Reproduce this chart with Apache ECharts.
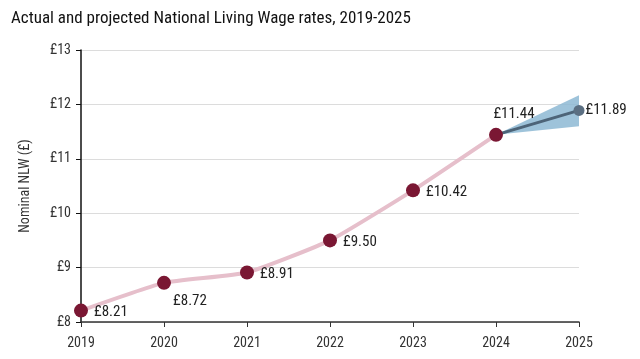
<!DOCTYPE html>
<html><head><meta charset="utf-8">
<script src="https://cdn.jsdelivr.net/npm/echarts@6/dist/echarts.min.js"></script>
<style>html,body{margin:0;padding:0;background:#fff}#c{width:640px;height:359px}</style>
</head><body><div id="c"></div>
<script>
const years = ['2019','2020','2021','2022','2023','2024','2025'];
const actual = [8.21, 8.72, 8.91, 9.50, 10.42, 11.44, null];
const projected = [null, null, null, null, null, 11.44, 11.89];
const fanLower = [null, null, null, null, null, 11.44, 11.60];
const fanUpper = [null, null, null, null, null, 11.44, 12.17];
const yTicks = [8, 9, 10, 11, 12, 13];

const FONT = '"Liberation Sans Narrow", "Roboto Condensed", "DejaVu Sans Condensed", "Arial Narrow", Roboto, sans-serif';
const fanWidth = fanUpper.map((u, i) => (u == null ? null : +(u - fanLower[i]).toFixed(2)));
const labelPos = ['right', 'bottom', 'right', 'right', 'right', 'top'];
const labelOffset = [[0, 2], [26, -2], [0, 2], [0, 2], [0, 2], [18, 0]];

const chart = echarts.init(document.getElementById('c'));
chart.setOption({
  animation: false,
  textStyle: { fontFamily: FONT },
  title: {
    text: 'Actual and projected National Living Wage rates, 2019-2025',
    left: 6, top: 5,
    textStyle: { fontFamily: FONT, fontSize: 17, fontWeight: 'normal', color: '#111' }
  },
  grid: { left: 81, right: 61, top: 50, bottom: 37 },
  xAxis: {
    type: 'category', data: years, boundaryGap: false,
    axisLine: { lineStyle: { color: '#333', width: 1.5 } },
    axisTick: { show: true, alignWithLabel: true, length: 5, lineStyle: { color: '#333' } },
    axisLabel: { color: '#333', fontSize: 14, margin: 14, fontFamily: FONT },
    splitLine: { show: false }
  },
  yAxis: {
    type: 'value', min: 8, max: 13, interval: 1,
    name: 'Nominal NLW (£)', nameLocation: 'middle', nameGap: 49,
    nameTextStyle: { color: '#333', fontSize: 14, fontFamily: FONT },
    axisLine: { show: true, lineStyle: { color: '#111', width: 1.5 } },
    axisTick: { show: true, length: 5, lineStyle: { color: '#111' } },
    axisLabel: { color: '#333', fontSize: 14, margin: 10, fontFamily: FONT, formatter: v => '£' + v },
    splitLine: { lineStyle: { color: '#dcdcdc' } }
  },
  series: [
    { type: 'line', data: fanLower, stack: 'fan', symbol: 'none', lineStyle: { opacity: 0 }, silent: true, z: 1 },
    { type: 'line', data: fanWidth, stack: 'fan', symbol: 'none', lineStyle: { opacity: 0 },
      areaStyle: { color: '#8db9d3', opacity: 0.85 }, silent: true, z: 1 },
    { type: 'line', data: projected, symbol: 'circle', symbolSize: 11,
      lineStyle: { color: '#4d6478', width: 3 },
      itemStyle: { color: '#5b6f82' },
      label: { show: true, position: 'right', distance: 1, fontSize: 15, color: '#222', fontFamily: FONT,
        formatter: p => p.dataIndex === 6 ? '£' + p.value.toFixed(2) : '' },
      z: 3 },
    { type: 'line', data: actual.map((v, i) => v == null ? null : {
        value: v, label: { position: labelPos[i], distance: 6, offset: labelOffset[i] } }),
      symbol: 'circle', symbolSize: 14, smooth: 0.15,
      lineStyle: { color: '#e6bfcb', width: 4 },
      itemStyle: { color: '#7a1733' },
      label: { show: true, fontSize: 15, color: '#222', fontFamily: FONT,
        formatter: p => '£' + p.value.toFixed(2) },
      z: 4 }
  ]
});
</script></body></html>
